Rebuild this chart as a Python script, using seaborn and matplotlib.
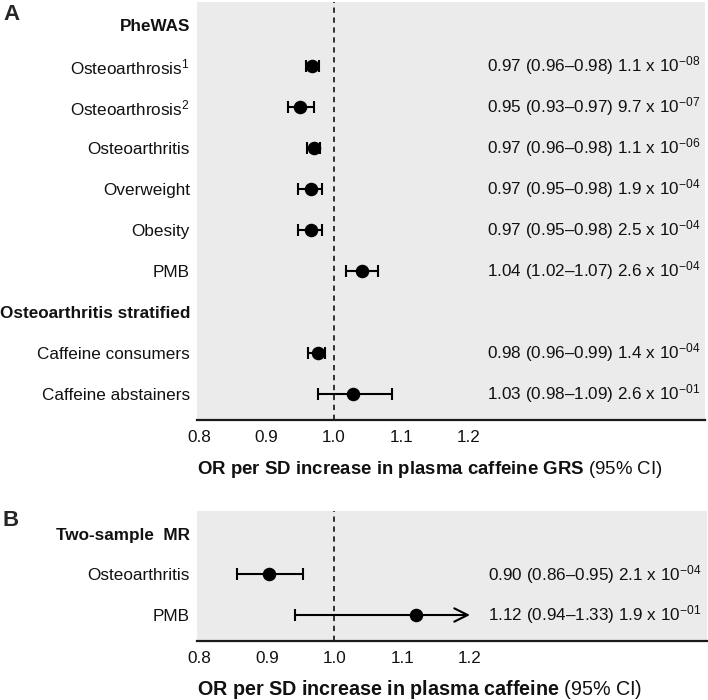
# Forest plot: caffeine GRS PheWAS (A) and two-sample MR (B)
import numpy as np
import matplotlib
matplotlib.use("Agg")
import matplotlib.pyplot as plt
import seaborn as sns

# Panel A data (rows top to bottom, NaN = header row)
labels_a = ['PheWAS', 'Osteoarthrosis$^1$', 'Osteoarthrosis$^2$', 'Osteoarthritis',
            'Overweight', 'Obesity', 'PMB', 'Osteoarthritis stratified',
            'Caffeine consumers', 'Caffeine abstainers']
headers_a = [0, 7]
or_a = [np.nan, 0.968, 0.950, 0.970, 0.966, 0.966, 1.042, np.nan, 0.976, 1.028]
lo_a = [np.nan, 0.958, 0.932, 0.960, 0.947, 0.947, 1.018, np.nan, 0.962, 0.977]
hi_a = [np.nan, 0.978, 0.970, 0.980, 0.983, 0.983, 1.066, np.nan, 0.987, 1.086]
pm_a = [np.nan, 1.1, 9.7, 1.1, 1.9, 2.5, 2.6, np.nan, 1.4, 2.6]
pe_a = [np.nan, -8, -7, -6, -4, -4, -4, np.nan, -4, -1]

# Panel B data
labels_b = ['Two-sample  MR', 'Osteoarthritis', 'PMB']
headers_b = [0]
or_b = [np.nan, 0.904, 1.121]
lo_b = [np.nan, 0.856, 0.942]
hi_b = [np.nan, 0.954, 1.33]
pm_b = [np.nan, 2.1, 1.9]
pe_b = [np.nan, -4, -1]

ticks = [0.8, 0.9, 1.0, 1.1, 1.2]
ci_clip = 1.2

sns.set_theme(style='white')
plt.rcParams['font.family'] = ['Liberation Sans', 'DejaVu Sans']
plt.rcParams['mathtext.fontset'] = 'custom'
plt.rcParams['mathtext.rm'] = 'Liberation Sans'
plt.rcParams['mathtext.it'] = 'Liberation Sans:italic'
plt.rcParams['mathtext.bf'] = 'Liberation Sans:bold'

FS = 12.3
W, H = 708, 700
fig = plt.figure(figsize=(W / 100, H / 100), dpi=100)
axA = fig.add_axes([197 / W, 1 - 420 / H, (705 - 197) / W, (420 - 2) / H])
axB = fig.add_axes([197 / W, 1 - 641 / H, (707 - 197) / W, (641 - 511) / H])


def forest(ax, labels, headers, est, lo, hi, pm, pe, xlabel, xl_size, xl_pad):
    n = len(labels)
    rows = np.arange(n)
    est, lo, hi = np.array(est), np.array(lo), np.array(hi)
    ok = ~np.isnan(est)
    ax.set_facecolor('#ebebeb')
    ax.axvline(1.0, color='black', lw=1.1, ls=(0, (3.5, 3)), zorder=1)

    inside = ok & (hi <= ci_clip)
    ax.errorbar(est[inside], rows[inside],
                xerr=[est[inside] - lo[inside], hi[inside] - est[inside]],
                fmt='none', ecolor='black', elinewidth=1.5, capsize=4.5,
                capthick=1.5, zorder=2)
    # CIs running past the axis range get an arrow
    for r in rows[ok & (hi > ci_clip)]:
        ax.annotate('', xy=(ci_clip, r), xytext=(lo[r], r),
                    arrowprops=dict(arrowstyle='->', lw=1.5, color='black',
                                    mutation_scale=24, shrinkA=0, shrinkB=0),
                    zorder=2)
        ax.plot([lo[r]], [r], marker='|', ms=9, mew=1.5, color='black', zorder=2)

    sns.scatterplot(x=est[ok], y=rows[ok], ax=ax, color='black', s=95,
                    edgecolor='black', linewidth=0, zorder=3)

    for r in rows[ok]:
        txt = (f"{est[r]:.2f} ({lo[r]:.2f}\u2013{hi[r]:.2f}) "
               f"{pm[r]:.1f} x 10$^{{{int(pe[r]):03d}}}$")
        ax.text(0.571, r, txt, transform=ax.get_yaxis_transform(),
                ha='left', va='center', fontsize=FS, color='#111111')

    ax.set_xlim(0.797, 1.55)
    ax.set_ylim(n - 1 + 0.64, -0.56)
    ax.set_xticks(ticks)
    ax.set_xticklabels([f"{t:.1f}" for t in ticks], fontsize=FS)
    ax.set_yticks(rows)
    ax.set_yticklabels(labels, fontsize=FS)
    for h in headers:
        ax.get_yticklabels()[h].set_fontweight('bold')
    ax.tick_params(axis='both', length=0, colors='#111111')
    ax.tick_params(axis='x', pad=7)
    ax.tick_params(axis='y', pad=5)
    for s in ['top', 'right', 'left']:
        ax.spines[s].set_visible(False)
    ax.spines['bottom'].set_color('#1a1a1a')
    ax.spines['bottom'].set_linewidth(1.6)
    ax.set_xlabel(xlabel, loc='left', fontsize=xl_size, labelpad=xl_pad,
                  color='#111111')


forest(axA, labels_a, headers_a, or_a, lo_a, hi_a, pm_a, pe_a,
       r"$\mathbf{OR\ per\ SD\ increase\ in\ plasma\ caffeine\ GRS}$ (95% CI)",
       13.4, 10)
forest(axB, labels_b, headers_b, or_b, lo_b, hi_b, pm_b, pe_b,
       r"$\mathbf{OR\ per\ SD\ increase\ in\ plasma\ caffeine}$ (95% CI)",
       14.2, 9)

fig.text(3 / W, 1 - 15 / H, 'A', fontsize=16, fontweight='bold', va='center')
fig.text(3 / W, 1 - 520 / H, 'B', fontsize=16, fontweight='bold', va='center')

fig.savefig('out.png', dpi=100)
